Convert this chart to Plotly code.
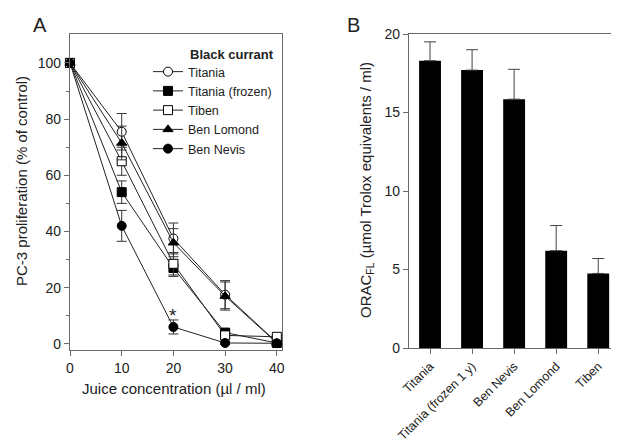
import plotly.graph_objects as go

# ---------- Panel A data ----------
conc = [0, 10, 20, 30, 40]
series_names = ["Titania", "Titania (frozen)", "Tiben", "Ben Lomond", "Ben Nevis"]
titania = [100, 75.5, 37.5, 17.5, 0.5]
titania_err = [0, 6.5, 5.5, 5.0, 0.5]
titania_frozen = [100, 54, 27, 4, 0.3]
titania_frozen_err = [0, 4, 3, 1, 0.5]
tiben = [100, 65, 28.5, 3, 2.5]
tiben_err = [0, 5, 4, 1, 0.5]
ben_lomond = [100, 71.5, 36, 17, 0.3]
ben_lomond_err = [0, 6, 5, 5, 0.5]
ben_nevis = [100, 42, 6, 0.3, 0.2]
ben_nevis_err = [0, 5.5, 2.5, 0.5, 0.5]

# ---------- Panel B data ----------
cultivars = ["Titania", "Titania (frozen 1 y)", "Ben Nevis", "Ben Lomond", "Tiben"]
orac = [18.3, 17.7, 15.85, 6.2, 4.75]
orac_err = [1.2, 1.3, 1.9, 1.6, 0.95]

FONT = "Liberation Sans, Arial, sans-serif"
AX = "#6a6a6a"

fig = go.Figure()

styles = [
    dict(symbol="circle", color="white"),
    dict(symbol="square", color="black"),
    dict(symbol="square", color="white"),
    dict(symbol="triangle-up", color="black"),
    dict(symbol="circle", color="black"),
]
ys = [titania, titania_frozen, tiben, ben_lomond, ben_nevis]
errs = [titania_err, titania_frozen_err, tiben_err, ben_lomond_err, ben_nevis_err]

for name, y, e, st in zip(series_names, ys, errs, styles):
    fig.add_trace(go.Scatter(
        x=conc, y=y, name=name, mode="lines+markers",
        line=dict(color="#222", width=1),
        marker=dict(symbol=st["symbol"], size=9,
                    color=st["color"], line=dict(color="black", width=1)),
        error_y=dict(type="data", array=e, visible=True, color="#333",
                     thickness=1, width=5),
        cliponaxis=False, xaxis="x", yaxis="y",
    ))

fig.add_trace(go.Bar(
    x=cultivars, y=orac, width=0.52, showlegend=False,
    marker=dict(color="black", line=dict(width=0)),
    error_y=dict(type="data", array=orac_err, arrayminus=[0] * len(orac_err),
                 symmetric=False, visible=True, color="#444", thickness=1, width=6),
    xaxis="x2", yaxis="y2",
))

# page body has an 8px margin; lay out in window pixels and compensate
OFF = 8
W, H = 619 - OFF, 443 - OFF
def px(x):
    return (x - OFF) / W
def py(y):
    return 1 - (y - OFF) / H

tickfont = dict(family=FONT, size=14, color="#222")
common = dict(showline=True, linecolor=AX, linewidth=1.2, mirror=True,
              ticks="outside", tickcolor=AX, ticklen=5, showgrid=False,
              zeroline=False, automargin=False)

fig.update_layout(
    width=W, height=H,
    margin=dict(l=0, r=0, t=0, b=0, autoexpand=False),
    paper_bgcolor="white", plot_bgcolor="white",
    font=dict(family=FONT, color="#222"),
    xaxis=dict(domain=[px(70), px(282)], range=[0, 41], tickvals=[0, 10, 20, 30, 40],
               anchor="y", tickfont=tickfont, **common),
    yaxis=dict(domain=[py(350), py(34)], range=[-2.2, 110.3], tickvals=[0, 20, 40, 60, 80, 100],
               minor=dict(tickvals=[10, 30, 50, 70, 90], ticks="outside", ticklen=3, tickcolor=AX),
               anchor="x", tickfont=tickfont, **common),
    xaxis2=dict(domain=[px(409), px(618)], range=[-0.5, 4.47], anchor="y2",
                tickangle=-45, tickfont=dict(family=FONT, size=12.5, color="#222"), **common),
    yaxis2=dict(domain=[py(348), py(34)], range=[0, 20], tickvals=[0, 5, 10, 15, 20],
                anchor="x2", tickfont=tickfont, **common),
    legend=dict(x=px(148), y=py(57), xanchor="left", yanchor="top",
                font=dict(family=FONT, size=12.5, color="#222"),
                bgcolor="rgba(0,0,0,0)", tracegroupgap=0, itemwidth=30),
    bargap=0.48,
)

ann = [
    dict(text="A", x=px(40), y=py(25), size=20),
    dict(text="B", x=px(353), y=py(25), size=20),
    dict(text="<b>Black currant</b>", x=px(232), y=py(54), size=13),
    dict(text="PC-3 proliferation (% of control)", x=px(21), y=py(181), textangle=-90, size=15),
    dict(text="Juice concentration (µl / ml)", x=px(174), y=py(388), size=15),
    dict(text="ORAC<sub>FL</sub> (µmol Trolox equivalents / ml)", x=px(366), y=py(190),
         textangle=-90, size=15),
]
for a in ann:
    size = a.pop("size")
    fig.add_annotation(xref="paper", yref="paper", showarrow=False,
                       xanchor="center", yanchor="middle",
                       font=dict(family=FONT, color="#222", size=size), **a)

fig.add_annotation(x=20, y=10, xref="x", yref="y", text="*", showarrow=False,
                   font=dict(family=FONT, size=19, color="#222"))

fig.write_html("out.html")
